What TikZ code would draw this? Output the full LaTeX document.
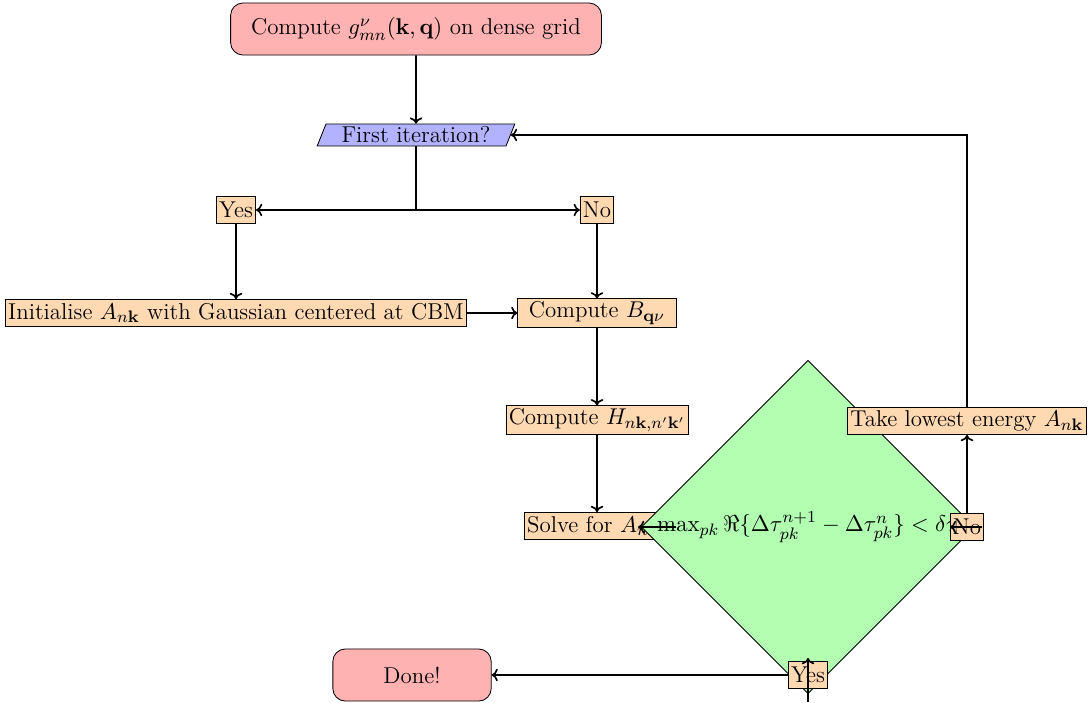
\documentclass[tikz,border=0pt]{standalone}
\usepackage{amsmath,amssymb}
\usetikzlibrary{shapes.geometric,arrows.meta}
\begin{document}
\begin{tikzpicture}[x=0.48pt,y=-0.48pt,
  every node/.style={font=\fontsize{11}{13}\selectfont},
  startstop/.style={draw, rounded corners=6pt, fill=red!30, minimum height=25pt},
  io/.style={draw, trapezium, trapezium left angle=70, trapezium right angle=110, trapezium stretches=true, fill=blue!30, minimum height=10.5pt, minimum width=95pt, inner sep=1pt},
  proc/.style={draw, fill=orange!30, inner sep=1.3pt, minimum height=13pt},
  decision/.style={draw, diamond, fill=green!30, aspect=1, minimum width=160pt, minimum height=160pt, inner sep=0pt},
  arrow/.style={thick,-{To[length=3pt,width=6pt]}}]
\useasboundingbox (0,0) rectangle (1091,702);
\node[startstop, minimum width=178pt] (start) at (416,29) {Compute $g_{mn}^{\nu}(\mathbf{k},\mathbf{q})$ on dense grid};
\node[io] (io) at (416,135) {First iteration?};
\node[proc] (yes) at (236,210) {Yes};
\node[proc] (no) at (597,210) {No};
\node[proc] (init) at (236,313) {Initialise $A_{n\mathbf{k}}$ with Gaussian centered at CBM};
\node[proc, minimum width=76pt] (B) at (597,313) {Compute $B_{\mathbf{q}\nu}$};
\node[proc] (H) at (597,420) {Compute $H_{n\mathbf{k},n'\mathbf{k}'}$};
\node[proc, anchor=west] (solve) at (524,526) {Solve for $A_{n\mathbf{k}}$};
\node[decision] (dec) at (808,527) {$\max_{pk}\Re\{\Delta\tau_{pk}^{n+1}-\Delta\tau_{pk}^{n}\}<\delta\tau$};
\node[proc] (noB) at (967,527) {No};
\node[proc] (yesB) at (808,675) {Yes};
\node[proc] (take) at (967,421) {Take lowest energy $A_{n\mathbf{k}}$};
\node[startstop, minimum width=76pt] (done) at (412,675) {Done!};
\coordinate (j) at (io.south |- yes);
\coordinate (d1) at (676,527);
\coordinate (d2) at (638,527);
\coordinate (n1) at (982,527);
\coordinate (y1) at (808,702);
\coordinate (y2) at (808,658);
\draw[arrow] (start) -- (io);
\draw[thick] (io.south) -- (j);
\draw[arrow] (j) -- (yes);
\draw[arrow] (j) -- (no);
\draw[arrow] (yes) -- (init);
\draw[arrow] (no) -- (B);
\draw[arrow] (init) -- (B);
\draw[arrow] (B) -- (H);
\draw[arrow] (H) -- (solve.north -| H);
\draw[arrow] (d1) -- (d2);
\draw[arrow] (n1) -- (noB.west);
\draw[arrow] (noB.north) -- (take.south);
\draw[arrow] (take.north) |- (io.east);
\draw[arrow] (y1) -- (y2);
\draw[arrow] (yesB.west) -- (done.east);
\end{tikzpicture}
\end{document}
